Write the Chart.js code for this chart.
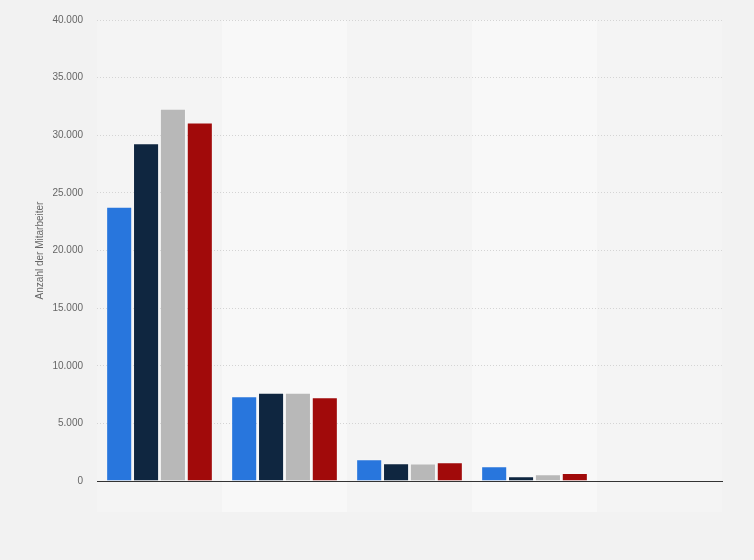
<!DOCTYPE html>
<html>
<head>
<meta charset="utf-8">
<script src="https://cdn.jsdelivr.net/npm/chart.js@4"></script>
<style>
  html, body { margin: 0; padding: 0; background: #f2f2f2; }
  #wrap { width: 754px; height: 560px; position: relative; }
</style>
</head>
<body>
<div id="wrap"><canvas id="chart"></canvas></div>
<script>
const categories = ['1', '2', '3', '4', '5'];
const series1 = [23800, 7350, 1880, 1270, 60];
const series2 = [29300, 7660, 1530, 410, 40];
const series3 = [32300, 7660, 1510, 580, 30];
const series4 = [31100, 7260, 1620, 690, 50];
const yTicks = [0, 5000, 10000, 15000, 20000, 25000, 30000, 35000, 40000];

const colors = ['#2876dd', '#0f2640', '#b8b8b8', '#a10a0a'];

// alternating column bands behind the bars
const bandPlugin = {
  id: 'bands',
  beforeDraw(chart) {
    const { ctx, chartArea } = chart;
    const n = categories.length;
    const w = (chartArea.right - chartArea.left) / n;
    ctx.save();
    for (let i = 0; i < n; i++) {
      ctx.fillStyle = i % 2 === 0 ? '#f4f4f4' : '#f8f8f8';
      ctx.fillRect(chartArea.left + i * w, chartArea.top, w, chartArea.bottom - chartArea.top + 31);
    }
    ctx.restore();
  },
};

const $canvas = document.getElementById('chart');
const sets = [series1, series2, series3, series4];

new Chart($canvas, {
  type: 'bar',
  data: {
    labels: categories,
    datasets: sets.map((s, i) => ({
      data: s,
      backgroundColor: colors[i],
      borderColor: 'rgba(255,255,255,0.2)',
      borderWidth: 1,
      borderSkipped: 'bottom',
      categoryPercentage: 0.86,
      barPercentage: 0.97,
    })),
  },
  options: {
    responsive: true,
    maintainAspectRatio: false,
    animation: false,
    layout: { padding: { left: 0, right: 32, top: 20, bottom: 79 } },
    plugins: {
      legend: { display: false },
      tooltip: { enabled: false },
    },
    scales: {
      x: {
        ticks: { display: false },
        grid: { display: false, drawTicks: false },
        border: { display: true, color: '#333333', width: 1 },
      },
      y: {
        min: 0,
        max: 40000,
        afterBuildTicks(axis) {
          axis.ticks = yTicks.map(v => ({ value: v }));
        },
        afterFit(axis) {
          axis.width = 97;
        },
        ticks: {
          padding: 14,
          color: '#666666',
          font: { family: 'Arial, "Liberation Sans", sans-serif', size: 10 },
          callback: v => v.toLocaleString('de-DE'),
        },
        grid: {
          drawTicks: false,
          color: ctx => (ctx.tick && ctx.tick.value === 0 ? 'rgba(0,0,0,0)' : '#d4d4d4'),
          lineWidth: 1,
        },
        border: { display: false, dash: [1, 2] },
        title: {
          display: true,
          text: 'Anzahl der Mitarbeiter',
          color: '#666666',
          font: { family: 'Arial, "Liberation Sans", sans-serif', size: 10 },
          padding: { top: 34, bottom: 0 },
        },
      },
    },
  },
  plugins: [bandPlugin],
});
</script>
</body>
</html>
